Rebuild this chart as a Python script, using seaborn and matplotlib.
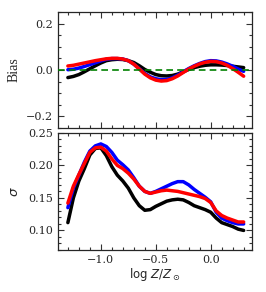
import numpy as np
import pandas as pd
import matplotlib
matplotlib.use("Agg")
import matplotlib.pyplot as plt
from matplotlib.ticker import MultipleLocator
import seaborn as sns

x = [-1.30, -1.25, -1.20, -1.15, -1.10, -1.05, -1.00, -0.95, -0.90, -0.85, -0.80,
     -0.75, -0.70, -0.65, -0.60, -0.55, -0.50, -0.45, -0.40, -0.35, -0.30, -0.25,
     -0.20, -0.15, -0.10, -0.05, 0.00, 0.05, 0.10, 0.15, 0.20, 0.25, 0.30]

bias_black = [-0.033, -0.028, -0.020, -0.008, 0.005, 0.018, 0.030, 0.040, 0.044, 0.046, 0.045,
              0.040, 0.032, 0.018, 0.002, -0.010, -0.020, -0.025, -0.026, -0.024, -0.018, -0.008,
              0.002, 0.010, 0.016, 0.020, 0.022, 0.022, 0.021, 0.019, 0.016, 0.013, 0.010]
bias_blue = [0.001, 0.003, 0.008, 0.015, 0.023, 0.031, 0.039, 0.046, 0.049, 0.049, 0.047,
             0.040, 0.025, 0.005, -0.015, -0.030, -0.038, -0.042, -0.041, -0.034, -0.022, -0.008,
             0.006, 0.018, 0.028, 0.036, 0.040, 0.039, 0.034, 0.026, 0.016, 0.004, -0.006]
bias_red = [0.017, 0.020, 0.025, 0.030, 0.035, 0.040, 0.044, 0.048, 0.050, 0.050, 0.047,
            0.040, 0.025, 0.004, -0.018, -0.034, -0.044, -0.048, -0.046, -0.038, -0.026, -0.011,
            0.004, 0.016, 0.026, 0.033, 0.037, 0.036, 0.030, 0.020, 0.006, -0.010, -0.027]

sig_black = [0.112, 0.150, 0.176, 0.195, 0.216, 0.226, 0.227, 0.215, 0.198, 0.185, 0.176,
             0.165, 0.150, 0.138, 0.131, 0.132, 0.137, 0.141, 0.145, 0.147, 0.148, 0.147,
             0.143, 0.138, 0.135, 0.132, 0.128, 0.119, 0.112, 0.109, 0.106, 0.102, 0.100]
sig_blue = [0.135, 0.165, 0.185, 0.205, 0.222, 0.230, 0.233, 0.229, 0.220, 0.208, 0.201,
            0.193, 0.181, 0.168, 0.160, 0.157, 0.160, 0.164, 0.168, 0.172, 0.175, 0.175,
            0.170, 0.163, 0.157, 0.151, 0.144, 0.128, 0.119, 0.115, 0.112, 0.110, 0.110]
sig_red = [0.142, 0.168, 0.186, 0.203, 0.220, 0.227, 0.228, 0.222, 0.210, 0.200, 0.195,
           0.188, 0.179, 0.168, 0.160, 0.157, 0.159, 0.161, 0.162, 0.161, 0.160, 0.158,
           0.156, 0.154, 0.152, 0.149, 0.143, 0.130, 0.123, 0.119, 0.116, 0.113, 0.113]

series = ["black", "blue", "red"]
palette = {"black": "black", "blue": "blue", "red": "red"}

def long_df(vals):
    rows = []
    for name, v in zip(series, vals):
        for xi, yi in zip(x, v):
            rows.append({"x": xi, "y": yi, "s": name})
    return pd.DataFrame(rows)

df_bias = long_df([bias_black, bias_blue, bias_red])
df_sig = long_df([sig_black, sig_blue, sig_red])

sns.set_style("ticks")
plt.rcParams["font.family"] = ["DejaVu Serif"]
plt.rcParams["mathtext.fontset"] = "dejavusans"

fig = plt.figure(figsize=(2.66, 2.92), dpi=100)
ax1 = fig.add_axes([0.218, 0.562, 0.729, 0.397])
ax2 = fig.add_axes([0.218, 0.144, 0.729, 0.401])

sns.lineplot(data=df_bias, x="x", y="y", hue="s", palette=palette, ax=ax1,
             linewidth=2.5, legend=False, sort=False)
ax1.axhline(0.0, color="green", ls="--", lw=1.2, dashes=(4, 2.5), zorder=5)
sns.lineplot(data=df_sig, x="x", y="y", hue="s", palette=palette, ax=ax2,
             linewidth=2.5, legend=False, sort=False)

for ax in (ax1, ax2):
    ax.set_xlim(-1.39, 0.375)
    ax.xaxis.set_major_locator(MultipleLocator(0.5))
    ax.xaxis.set_minor_locator(MultipleLocator(0.1))
    ax.tick_params(which="both", direction="in", top=True, right=True, labelsize=8,
                   width=0.8, color="#333333")
    ax.tick_params(which="major", length=4)
    ax.tick_params(which="minor", length=2)
    for sp in ax.spines.values():
        sp.set_linewidth(0.9)
    ax.set_xlabel("")

ax1.set_ylim(-0.25, 0.25)
ax1.yaxis.set_major_locator(MultipleLocator(0.2))
ax1.yaxis.set_minor_locator(MultipleLocator(0.05))
ax1.tick_params(labelbottom=False)
ax1.set_ylabel("Bias", fontsize=10, family="Liberation Serif", labelpad=4)

ax2.set_ylim(0.07, 0.25)
ax2.yaxis.set_major_locator(MultipleLocator(0.05))
ax2.yaxis.set_minor_locator(MultipleLocator(0.01))
ax2.set_ylabel(r"$\sigma$", fontsize=9.5, labelpad=5)
ax2.set_xlabel(r"log $Z/Z_\odot$", fontsize=8.5, family="DejaVu Sans", labelpad=1)

fig.savefig("out.png", dpi=100)
